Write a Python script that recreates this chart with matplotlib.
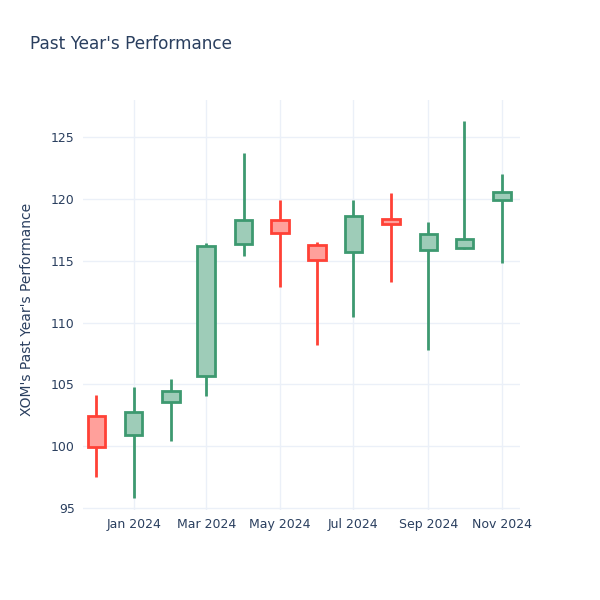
import matplotlib
matplotlib.use("Agg")
import matplotlib.pyplot as plt
import matplotlib.dates as mdates
import numpy as np
import datetime as dt

months = ["2023-12-01", "2024-01-01", "2024-02-01", "2024-03-01", "2024-04-01", "2024-05-01",
          "2024-06-01", "2024-07-01", "2024-08-01", "2024-09-01", "2024-10-01", "2024-11-01"]
opens = [102.47, 100.91, 103.56, 105.69, 116.38, 118.26, 116.30, 115.67, 118.38, 115.84, 116.05, 119.94]
highs = [104.15, 104.82, 105.42, 116.43, 123.72, 119.88, 116.49, 119.88, 120.48, 118.10, 126.34, 122.02]
lows = [97.48, 95.78, 100.42, 104.07, 115.40, 112.84, 108.17, 110.44, 113.25, 107.79, 115.95, 114.86]
closes = [99.97, 102.75, 104.47, 116.21, 118.26, 117.24, 115.08, 118.59, 117.97, 117.19, 116.78, 120.56]

tick_dates = ["2024-01-01", "2024-03-01", "2024-05-01", "2024-07-01", "2024-09-01", "2024-11-01"]
tick_labels = ["Jan 2024", "Mar 2024", "May 2024", "Jul 2024", "Sep 2024", "Nov 2024"]
y_ticks = [95, 100, 105, 110, 115, 120, 125]

INC_LINE, INC_FILL = "#3D9970", "#9ECCB8"
DEC_LINE, DEC_FILL = "#FF4136", "#FFA09B"
TEXT = "#2a3f5f"
GRID = "#EBF0F8"

fig = plt.figure(figsize=(6, 6), dpi=100)
ax = fig.add_axes([83/600, 1-510/600, (520-83)/600, (510-100)/600])

x = mdates.date2num([dt.date.fromisoformat(d) for d in months])
width = 14.5

for xi, o, h, l, c in zip(x, opens, highs, lows, closes):
    inc = c >= o
    lc = INC_LINE if inc else DEC_LINE
    fc = INC_FILL if inc else DEC_FILL
    top, bot = max(o, c), min(o, c)
    ax.plot([xi, xi], [top, h], color=lc, lw=2, solid_capstyle="butt", zorder=3)
    ax.plot([xi, xi], [l, bot], color=lc, lw=2, solid_capstyle="butt", zorder=3)
    ax.add_patch(plt.Rectangle((xi - width/2, bot), width, top - bot,
                               facecolor=fc, edgecolor=lc, lw=2, zorder=4))

ax.set_xlim(mdates.date2num(dt.date(2023, 11, 20)), mdates.date2num(dt.date(2024, 11, 16)))
ax.set_ylim(94.85, 128.0)

ax.set_xticks(mdates.date2num([dt.date.fromisoformat(d) for d in tick_dates]))
ax.set_xticklabels(tick_labels)
ax.set_yticks(y_ticks)
ax.set_yticklabels([str(v) for v in y_ticks])

for s in ax.spines.values():
    s.set_visible(False)
ax.grid(True, color=GRID, lw=1)
ax.set_axisbelow(True)
ax.tick_params(axis="both", length=0, labelsize=9, colors=TEXT, pad=6)

ax.set_ylabel("XOM's Past Year's Performance", fontsize=10, color=TEXT)
ax.yaxis.set_label_coords(-0.112, 0.49)
fig.text(30/600, 1-44/600, "Past Year's Performance", fontsize=12.2, color=TEXT,
         ha="left", va="center")

fig.savefig("out.png", dpi=100, facecolor="white")
